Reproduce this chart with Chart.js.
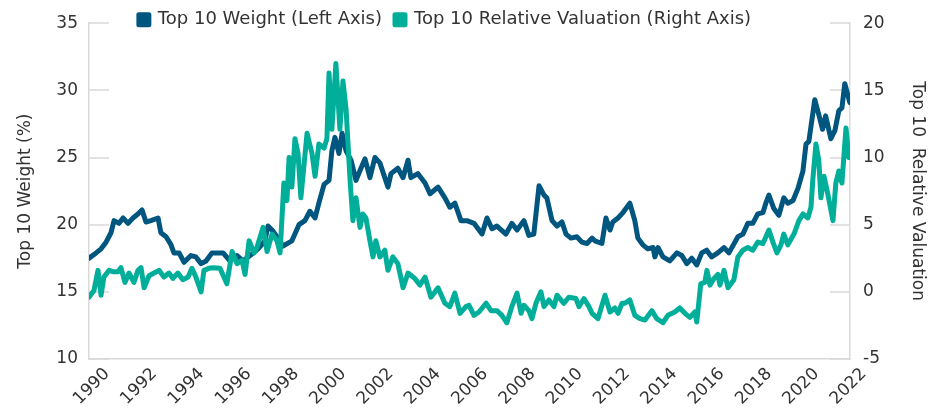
<!DOCTYPE html>
<html>
<head>
<meta charset="utf-8">
<script src="https://cdn.jsdelivr.net/npm/chart.js@4.4.0/dist/chart.umd.min.js"></script>
<style>
    html, body { margin: 0; padding: 0; background: #fff; }
    #wrap { width: 938px; height: 409px; }
</style>
</head>
<body>
<div id="wrap"><canvas id="top10-chart" width="938" height="409"></canvas></div>
<script>
// Values (decimal years)
const weightYears = [
    1990.00, 1990.30, 1990.51, 1990.72, 1990.93, 1991.06, 1991.27, 1991.44, 1991.65, 1991.86,
    1992.07, 1992.24, 1992.41, 1992.62, 1992.92, 1993.04, 1993.26, 1993.47, 1993.59, 1993.81,
    1994.02, 1994.31, 1994.52, 1994.74, 1994.95, 1995.20, 1995.67, 1995.96, 1996.26, 1996.51,
    1996.81, 1997.15, 1997.44, 1997.57, 1997.74, 1997.95, 1998.20, 1998.58, 1998.88, 1999.13,
    1999.34, 1999.56, 1999.72, 1999.94, 2000.15, 2000.27, 2000.40, 2000.57, 2000.70, 2000.87,
    2001.08, 2001.29, 2001.50, 2001.67, 2001.88, 2002.09, 2002.30, 2002.64, 2002.77, 2003.06,
    2003.28, 2003.49, 2003.61, 2003.91, 2004.21, 2004.42, 2004.76, 2005.05, 2005.26, 2005.47,
    2005.73, 2005.98, 2006.28, 2006.62, 2006.83, 2007.04, 2007.25, 2007.63, 2007.88, 2008.10,
    2008.39, 2008.60, 2008.81, 2009.03, 2009.24, 2009.36, 2009.58, 2009.79, 2010.00, 2010.17,
    2010.38, 2010.63, 2010.84, 2011.06, 2011.27, 2011.39, 2011.69, 2011.86, 2012.03, 2012.15,
    2012.37, 2012.58, 2012.87, 2013.08, 2013.21, 2013.42, 2013.63, 2013.85, 2013.93, 2014.06,
    2014.27, 2014.56, 2014.86, 2015.07, 2015.28, 2015.49, 2015.70, 2015.91, 2016.12, 2016.33,
    2016.59, 2016.85, 2017.06, 2017.44, 2017.65, 2017.86, 2018.07, 2018.28, 2018.50, 2018.62,
    2018.75, 2018.96, 2019.17, 2019.38, 2019.55, 2019.77, 2019.98, 2020.19, 2020.32, 2020.44,
    2020.69, 2020.86, 2021.02, 2021.15, 2021.37, 2021.54, 2021.71, 2021.84, 2021.96, 2022.17
];
const weightValues = [
    17.5, 17.9, 18.2, 18.7, 19.4, 20.3, 20.1, 20.5, 20.1, 20.5,
    20.8, 21.1, 20.2, 20.3, 20.5, 19.4, 19.1, 18.5, 17.9, 17.9,
    17.2, 17.7, 17.6, 17.1, 17.3, 17.9, 17.9, 17.3, 17.7, 17.3,
    17.7, 18.2, 18.8, 19.9, 19.6, 19.1, 18.4, 18.8, 20.0, 20.3,
    21.0, 20.5, 21.6, 23.0, 23.3, 25.5, 26.5, 25.3, 26.8, 25.5,
    24.8, 23.3, 24.2, 24.9, 23.5, 25.0, 24.6, 22.8, 23.8, 24.2,
    23.5, 24.8, 23.5, 23.8, 23.1, 22.3, 22.8, 22.0, 21.3, 21.6,
    20.3, 20.3, 20.1, 19.3, 20.5, 19.7, 19.9, 19.3, 20.1, 19.6,
    20.3, 19.2, 19.3, 22.9, 22.2, 22.0, 20.3, 19.9, 20.2, 19.3,
    19.0, 19.1, 18.7, 18.6, 19.0, 18.8, 18.6, 20.5, 19.6, 20.2,
    20.5, 20.9, 21.6, 20.3, 19.0, 18.5, 18.2, 18.3, 17.6, 18.3,
    17.6, 17.3, 17.9, 17.7, 17.1, 17.5, 17.0, 17.9, 18.1, 17.6,
    17.9, 18.3, 17.9, 19.1, 19.3, 20.1, 20.1, 20.8, 20.9, 21.6,
    22.2, 21.2, 20.7, 22.0, 21.6, 21.8, 22.7, 24.0, 26.0, 26.2,
    29.3, 28.2, 27.1, 28.1, 26.4, 27.0, 28.5, 28.7, 30.5, 29.1
];

const valuationYears = [
    1990.00, 1990.21, 1990.38, 1990.51, 1990.63, 1990.85, 1991.01, 1991.23, 1991.35, 1991.52,
    1991.69, 1991.90, 1992.07, 1992.20, 1992.33, 1992.54, 1992.75, 1992.96, 1993.17, 1993.38,
    1993.55, 1993.76, 1993.97, 1994.19, 1994.35, 1994.52, 1994.74, 1994.86, 1995.07, 1995.24,
    1995.54, 1995.83, 1996.05, 1996.26, 1996.47, 1996.60, 1996.77, 1996.98, 1997.10, 1997.36,
    1997.53, 1997.74, 1997.95, 1998.08, 1998.24, 1998.37, 1998.46, 1998.58, 1998.71, 1998.84,
    1998.96, 1999.22, 1999.43, 1999.56, 1999.72, 1999.94, 2000.06, 2000.15, 2000.27, 2000.44,
    2000.61, 2000.74, 2000.87, 2001.04, 2001.16, 2001.29, 2001.46, 2001.58, 2001.71, 2001.88,
    2002.01, 2002.13, 2002.30, 2002.51, 2002.64, 2002.85, 2003.06, 2003.28, 2003.49, 2003.78,
    2003.99, 2004.21, 2004.46, 2004.76, 2005.05, 2005.26, 2005.47, 2005.69, 2005.94, 2006.07,
    2006.28, 2006.49, 2006.79, 2007.00, 2007.25, 2007.46, 2007.67, 2007.88, 2008.10, 2008.27,
    2008.39, 2008.60, 2008.73, 2008.90, 2009.11, 2009.24, 2009.45, 2009.66, 2009.79, 2010.08,
    2010.29, 2010.59, 2010.72, 2010.93, 2011.14, 2011.27, 2011.52, 2011.82, 2012.03, 2012.24,
    2012.37, 2012.54, 2012.66, 2012.87, 2013.08, 2013.30, 2013.51, 2013.80, 2014.01, 2014.27,
    2014.48, 2014.77, 2014.98, 2015.20, 2015.41, 2015.62, 2015.70, 2015.87, 2016.04, 2016.13,
    2016.26, 2016.43, 2016.59, 2016.68, 2016.85, 2017.02, 2017.27, 2017.44, 2017.65, 2017.86,
    2018.07, 2018.28, 2018.50, 2018.75, 2018.92, 2019.09, 2019.26, 2019.38, 2019.55, 2019.81,
    2020.02, 2020.19, 2020.40, 2020.53, 2020.61, 2020.74, 2020.86, 2020.95, 2021.08, 2021.24,
    2021.46, 2021.58, 2021.71, 2021.84, 2022.01, 2022.13
];
const valuationValues = [
    -0.4, 0.1, 1.6, -0.25, 1.1, 1.6, 1.5, 1.5, 1.8, 0.7,
    1.4, 0.7, 1.6, 1.8, 0.3, 1.2, 1.4, 1.6, 1.1, 1.4,
    1.0, 1.4, 0.9, 1.1, 1.75, 1.1, 0.0, 1.6, 1.75, 1.8,
    1.75, 0.6, 3.0, 2.1, 2.35, 1.3, 3.8, 2.9, 3.3, 4.8,
    3.0, 4.3, 3.8, 2.9, 8.1, 6.8, 10.0, 7.8, 11.4, 10.3,
    7.0, 11.8, 10.3, 8.6, 11.0, 10.7, 11.4, 16.3, 12.1, 17.0,
    12.1, 15.7, 13.6, 8.3, 5.3, 7.0, 4.8, 5.8, 5.5, 3.8,
    2.6, 3.8, 2.6, 3.1, 1.6, 2.6, 2.1, 0.3, 1.4, 1.0,
    0.5, 1.1, -0.4, 0.3, -0.85, -1.1, -0.1, -1.6, -1.1, -1.0,
    -1.75, -1.5, -0.85, -1.4, -1.4, -1.75, -2.3, -1.1, -0.1, -1.6,
    -1.0, -1.4, -2.0, -0.85, 0.0, -1.1, -0.6, -1.1, -0.25, -0.85,
    -0.4, -0.5, -1.1, -0.5, -1.1, -1.6, -2.0, -0.25, -1.5, -1.2,
    -1.6, -0.85, -0.85, -0.6, -1.75, -2.0, -2.1, -1.4, -2.0, -2.3,
    -1.75, -1.5, -1.2, -1.6, -1.9, -1.5, -2.25, 0.6, 0.7, 1.6,
    0.5, 1.0, 1.3, 0.5, 1.6, 0.3, 0.9, 2.6, 3.1, 3.3,
    3.1, 3.7, 3.6, 4.6, 3.7, 2.9, 3.5, 4.3, 3.5, 4.3,
    5.3, 5.8, 5.5, 6.3, 8.4, 11.0, 9.8, 7.0, 8.6, 7.3,
    5.3, 8.1, 9.0, 8.1, 12.2, 10.0
];

const yearTicks = [1990, 1992, 1994, 1996, 1998, 2000, 2002, 2004, 2006, 2008,
                   2010, 2012, 2014, 2016, 2018, 2020, 2022];
const weightTicks = [10, 15, 20, 25, 30, 35];
const valuationTicks = [-5, 0, 5, 10, 15, 20];

const BLUE = '#00567f';
const TEAL = '#00ae9a';
const TEXT = '#333333';
const AXIS = '#d9d9d9';
const FONT = 'DejaVu Sans';

// short tick marks drawn inward from the two value axes
const innerTicks = {
    id: 'innerTicks',
    beforeDatasetsDraw(chart) {
        const { ctx, chartArea } = chart;
        ctx.save();
        ctx.strokeStyle = AXIS;
        ctx.lineWidth = 1.5;
        [['y', chartArea.left, 1], ['y1', chartArea.right, -1]].forEach(([id, x0, dir]) => {
            const scale = chart.scales[id];
            scale.ticks.forEach(t => {
                const py = Math.round(scale.getPixelForValue(t.value));
                ctx.beginPath();
                ctx.moveTo(x0, py);
                ctx.lineTo(x0 + dir * 20, py);
                ctx.stroke();
            });
        });
        ctx.restore();
    }
};

// keep the legend thin in the layout, then nudge it where the reference has it
const legendPlace = {
    id: 'legendPlace',
    beforeLayout(chart) {
        const lg = chart.legend;
        if (!lg || lg._fitPatched) return;
        const fit = lg.fit;
        lg.fit = function () { fit.call(this); this.height = 22; };
        lg._fitPatched = true;
    },
    afterLayout(chart) {
        const lg = chart.legend;
        lg.top -= 3.5;
        lg.bottom += 14; // room so the clip box does not cut the text
        lg.left -= 24;
        lg.right -= 24;
    }
};

const tickFont = { family: FONT, size: 17 };
const titleFont = { family: FONT, size: 17 };

new Chart(document.getElementById('top10-chart'), {
    type: 'line',
    data: {
        datasets: [
            {
                label: 'Top 10 Weight (Left Axis)',
                data: weightYears.map((x, i) => ({ x, y: weightValues[i] })),
                borderColor: BLUE,
                backgroundColor: BLUE,
                yAxisID: 'y',
                order: 1
            },
            {
                label: 'Top 10 Relative Valuation (Right Axis)',
                data: valuationYears.map((x, i) => ({ x, y: valuationValues[i] })),
                borderColor: TEAL,
                backgroundColor: TEAL,
                yAxisID: 'y1',
                order: 0
            }
        ]
    },
    options: {
        responsive: false,
        animation: false,
        devicePixelRatio: 1,
        events: [],
        layout: { padding: 0 },
        elements: {
            point: { radius: 0 },
            line: { borderWidth: 5, tension: 0, borderJoinStyle: 'round', borderCapStyle: 'round' }
        },
        plugins: {
            tooltip: { enabled: false },
            legend: {
                position: 'top',
                labels: {
                    boxWidth: 10,
                    boxHeight: 10,
                    padding: 13,
                    color: TEXT,
                    font: { family: FONT, size: 18 },
                    sort: (a, b) => a.datasetIndex - b.datasetIndex
                }
            }
        },
        scales: {
            x: {
                type: 'linear',
                min: 1990,
                max: 2022.18,
                afterBuildTicks: s => { s.ticks = yearTicks.map(v => ({ value: v })); },
                afterFit: s => { s.height = 50; },
                grid: { display: false, drawTicks: false },
                border: { display: true, color: AXIS, width: 1.5 },
                ticks: {
                    autoSkip: false,
                    minRotation: 45,
                    maxRotation: 45,
                    labelOffset: 18,
                    padding: 5,
                    color: TEXT,
                    font: tickFont,
                    callback: v => String(v)
                }
            },
            y: {
                position: 'left',
                min: 10,
                max: 35,
                afterBuildTicks: s => { s.ticks = weightTicks.map(v => ({ value: v })); },
                afterFit: s => { s.width = 89; },
                grid: { display: false, drawTicks: false },
                border: { display: true, color: AXIS, width: 1.5 },
                ticks: { padding: 11, color: TEXT, font: tickFont, callback: v => String(v) },
                title: {
                    display: true,
                    text: 'Top 10 Weight (%)',
                    color: TEXT,
                    font: titleFont,
                    padding: { top: 15, bottom: 0 }
                }
            },
            y1: {
                position: 'right',
                min: -5,
                max: 20,
                afterBuildTicks: s => { s.ticks = valuationTicks.map(v => ({ value: v })); },
                afterFit: s => { s.width = 88; },
                grid: { display: false, drawTicks: false },
                border: { display: true, color: AXIS, width: 1.5 },
                ticks: { padding: 13, color: TEXT, font: tickFont, callback: v => String(v) },
                title: {
                    display: true,
                    text: 'Top 10  Relative Valuation',
                    color: TEXT,
                    font: titleFont,
                    padding: { top: 10, bottom: 0 }
                }
            }
        }
    },
    plugins: [innerTicks, legendPlace]
});
</script>
</body>
</html>
